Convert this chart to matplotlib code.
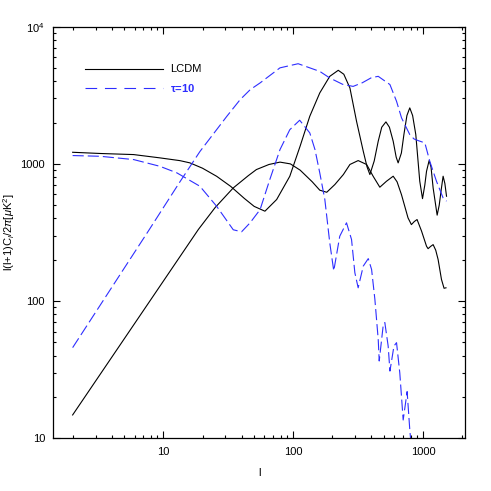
import matplotlib
matplotlib.use('Agg')
import matplotlib.pyplot as plt
from matplotlib.ticker import FixedLocator, FixedFormatter, LogLocator, NullFormatter

plt.rcParams['font.family'] = ['Liberation Sans', 'DejaVu Sans']
plt.rcParams['mathtext.fontset'] = 'custom'
plt.rcParams['mathtext.rm'] = 'Liberation Sans'
plt.rcParams['mathtext.it'] = 'Liberation Sans:italic'
plt.rcParams['mathtext.bf'] = 'Liberation Sans:bold'

# LCDM, first black curve (plateau then acoustic peaks)
lcdm_tt_l = [2, 3.3, 5.9, 9.4, 13.4, 16, 20, 25.7, 33, 42, 50, 60.5, 74.5, 94, 113, 134, 160, 191,
             222, 245, 273, 307, 346, 370, 389, 420, 451, 480, 517, 550, 588, 620, 642, 680, 711,
             750, 789, 830, 878, 942, 989, 1030, 1062, 1112, 1150, 1194, 1282, 1330, 1384, 1425,
             1470, 1514]
lcdm_tt_v = [1215, 1190, 1169, 1106, 1056, 1017, 930, 812, 685, 560, 490, 452, 550, 812, 1350, 2223,
             3290, 4345, 4808, 4500, 3575, 2045, 1235, 950, 836, 1050, 1463, 1850, 2023, 1850, 1463,
             1120, 1017, 1200, 1635, 2250, 2560, 2250, 1635, 747, 558, 700, 883, 1057, 950, 668,
             423, 500, 668, 813, 720, 581]

# LCDM, second black curve (rising from low l)
lcdm_b_l = [2, 18.6, 25, 34.5, 45, 52, 65, 79, 95, 113, 140, 160, 181, 209, 243, 273, 316, 367,
            412, 464, 522, 588, 630, 681, 765, 812, 855, 898, 972, 1062, 1092, 1140, 1194, 1250,
            1304, 1384, 1449, 1500]
lcdm_b_v = [14.8, 333, 480, 668, 820, 909, 990, 1030, 1000, 900, 740, 643, 621, 707, 836, 990, 1057,
            990, 813, 676, 747, 813, 740, 597, 404, 361, 380, 393, 324, 251, 241, 250, 258, 235,
            201, 144, 124, 125]

# tau=10, blue curve starting near 1000
tau_a_l = [2, 3.26, 5.9, 9.4, 12.7, 19.1, 25.7, 34.5, 40, 46.5, 55.5, 66, 79, 94, 112, 134, 147, 160,
           175, 191, 205, 228, 257, 281, 298, 316, 346, 378, 401, 425, 451, 459, 492, 507, 538,
           555, 596, 624, 661, 702, 753, 789, 800, 830]
tau_a_v = [1150, 1136, 1075, 960, 860, 687, 491, 331, 320, 372, 464, 770, 1270, 1774, 2080, 1682,
           1270, 859, 550, 266, 166, 297, 372, 281, 161, 125, 180, 204, 170, 103, 52.5, 36.6, 65.8,
           69.7, 47, 30.9, 47, 49.8, 30, 13.6, 21.9, 11.6, 10, 7]

# tau=10, blue curve rising from low l
tau_b_l = [2, 7.8, 13.4, 19.1, 30.8, 39, 46.6, 55.5, 79, 109, 160, 191, 240, 289, 340, 400, 451,
           555, 624, 682, 789, 850, 916, 1031, 1125, 1267, 1425, 1514]
tau_b_v = [45.8, 333, 740, 1230, 2223, 2940, 3475, 3890, 5010, 5370, 4720, 4227, 3800, 3670, 3900,
           4250, 4345, 3785, 2858, 2163, 1635, 1520, 1478, 1422, 1045, 747, 565, 535]

x_ticks = [10, 100, 1000]
x_tick_labels = ['10', '100', '1000']
y_ticks = [10, 100, 1000, 10000]
y_tick_labels = ['10', '100', '1000', r'10$^4$']

blue = '#2e2eff'

fig = plt.figure(figsize=(4.91, 4.91), dpi=100)
ax = fig.add_axes([0.1086, 0.1073, 0.8384, 0.8384])

ax.plot(lcdm_tt_l, lcdm_tt_v, color='black', lw=0.8)
ax.plot(lcdm_b_l, lcdm_b_v, color='black', lw=0.8)
ax.plot(tau_a_l, tau_a_v, color=blue, lw=0.8, dashes=(10, 3.6))
ax.plot(tau_b_l, tau_b_v, color=blue, lw=0.8, dashes=(10, 3.6))

ax.set_xscale('log')
ax.set_yscale('log')
ax.set_xlim(1.42, 2100)
ax.set_ylim(10, 10000)

ax.xaxis.set_major_locator(FixedLocator(x_ticks))
ax.xaxis.set_major_formatter(FixedFormatter(x_tick_labels))
ax.yaxis.set_major_locator(FixedLocator(y_ticks))
ax.yaxis.set_major_formatter(FixedFormatter(y_tick_labels))
ax.xaxis.set_minor_locator(LogLocator(base=10, subs=range(2, 10)))
ax.yaxis.set_minor_locator(LogLocator(base=10, subs=range(2, 10)))
ax.xaxis.set_minor_formatter(NullFormatter())
ax.yaxis.set_minor_formatter(NullFormatter())

ax.tick_params(which='both', direction='in', top=True, right=True, labelsize=8, width=0.8)
ax.tick_params(which='major', length=5, pad=6)
ax.tick_params(which='minor', length=2.5)
for s in ax.spines.values():
    s.set_linewidth(0.9)

ax.set_xlabel('l', fontsize=8, labelpad=8)
ax.set_ylabel(r'l(l+1)C$_l$/2$\pi$[$\mu$K$^2$]', fontsize=8)
ax.yaxis.set_label_coords(-0.088, 0.5)

# legend drawn by hand
ax.plot([0.077, 0.266], [0.898, 0.898], transform=ax.transAxes, color='black', lw=0.8)
ax.text(0.283, 0.898, 'LCDM', transform=ax.transAxes, fontsize=8, va='center')
ax.plot([0.077, 0.266], [0.850, 0.850], transform=ax.transAxes, color=blue, lw=0.8,
        dashes=(10.5, 7))
ax.text(0.283, 0.850, r'$\mathbf{\tau}$=10', transform=ax.transAxes, fontsize=8, va='center',
        color=blue, fontweight='bold')

fig.savefig('out.png', dpi=100)
